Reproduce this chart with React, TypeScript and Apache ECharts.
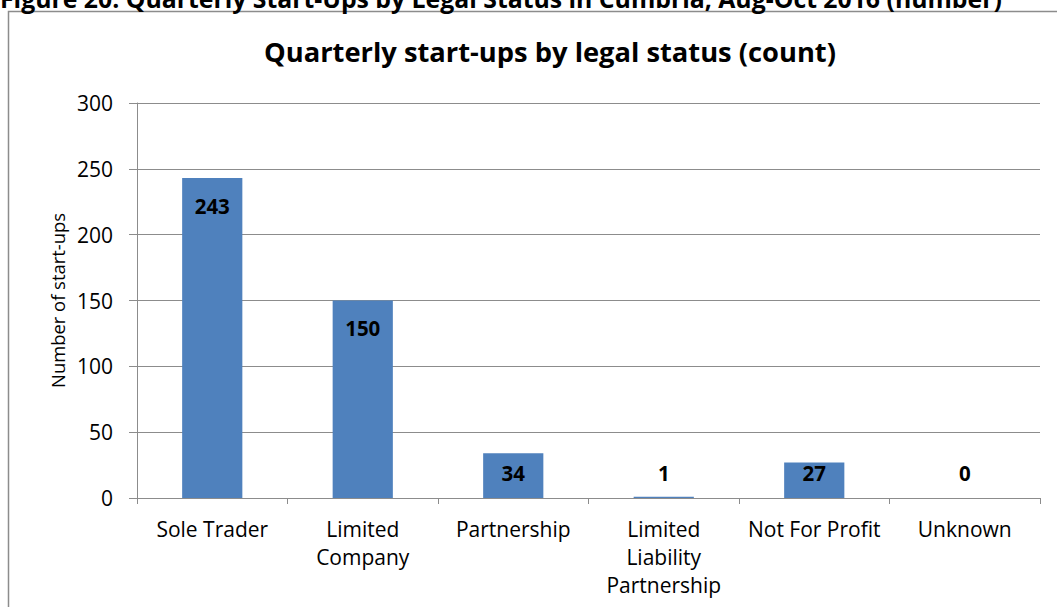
import React, { useEffect, useRef } from "react";
import * as echarts from "echarts";

const categories = [
  "Sole Trader",
  "Limited\nCompany",
  "Partnership",
  "Limited\nLiability\nPartnership",
  "Not For Profit",
  "Unknown",
];
const startUps = [243, 150, 34, 1, 27, 0];
const yTicks = { min: 0, max: 300, interval: 50 };
const figureCaption =
  "Figure 20: Quarterly Start-Ups by Legal Status in Cumbria, Aug-Oct 2016 (number)";
const chartTitle = "Quarterly start-ups by legal status (count)";
const yAxisName = "Number of start-ups";

const FONT = "'Open Sans', Lato, sans-serif";

export default function App() {
  const ref = useRef<HTMLDivElement>(null);
  useEffect(() => {
    document.body.style.margin = "0";
    const chart = echarts.init(ref.current!, null, { renderer: "svg" });
    const data = startUps.map((v) => ({
      value: v,
      label:
        v >= 60
          ? { position: "insideTop", distance: 17 }
          : { position: "insideBottom", distance: 15 },
    }));
    chart.setOption({
      animation: false,
      backgroundColor: "#ffffff",
      textStyle: { fontFamily: FONT },
      title: {
        text: chartTitle,
        left: 545,
        top: 33,
        textAlign: "center",
        textStyle: { fontFamily: FONT, fontSize: 27.3, fontWeight: "bold", color: "#000" },
      },
      graphic: [
        {
          type: "rect",
          shape: { x: 8.5, y: 11.5, width: 1200, height: 800 },
          style: { fill: "none", stroke: "#8c8c8c", lineWidth: 1.5 },
          silent: true,
          z: -1,
        },
        {
          type: "text",
          x: 0,
          y: 10,
          style: {
            text: figureCaption,
            font: "bold 24.8px " + FONT,
            fill: "#000",
            textAlign: "left",
            textVerticalAlign: "bottom",
          },
        },
      ],
      grid: { left: 137, right: 17, top: 103, bottom: 109, containLabel: false },
      xAxis: {
        type: "category",
        data: categories,
        axisLine: { lineStyle: { color: "#8c8c8c", width: 1 } },
        axisTick: { show: true, alignWithLabel: false, length: 6, lineStyle: { color: "#8c8c8c" } },
        axisLabel: {
          interval: 0,
          color: "#000",
          fontFamily: FONT,
          fontSize: 21,
          lineHeight: 28,
          margin: 17,
        },
      },
      yAxis: {
        type: "value",
        min: yTicks.min,
        max: yTicks.max,
        interval: yTicks.interval,
        name: yAxisName,
        nameLocation: "middle",
        nameGap: 68,
        nameTextStyle: { color: "#000", fontFamily: FONT, fontSize: 18.4 },
        axisLine: { show: true, lineStyle: { color: "#8c8c8c", width: 1 } },
        axisTick: { show: true, length: 8, lineStyle: { color: "#8c8c8c" } },
        splitLine: { show: true, lineStyle: { color: "#8c8c8c", width: 1 } },
        axisLabel: { color: "#000", fontFamily: FONT, fontSize: 21, margin: 24 },
      },
      series: [
        {
          type: "bar",
          data,
          barWidth: "40%",
          itemStyle: { color: "#4f81bd" },
          label: {
            show: true,
            color: "#000",
            fontFamily: FONT,
            fontWeight: "bold",
            fontSize: 20.5,
          },
        },
      ],
    });
    return () => chart.dispose();
  }, []);
  return (
    <div
      ref={ref}
      style={{ position: "absolute", left: 0, top: 0, width: 1057, height: 607 }}
    />
  );
}
